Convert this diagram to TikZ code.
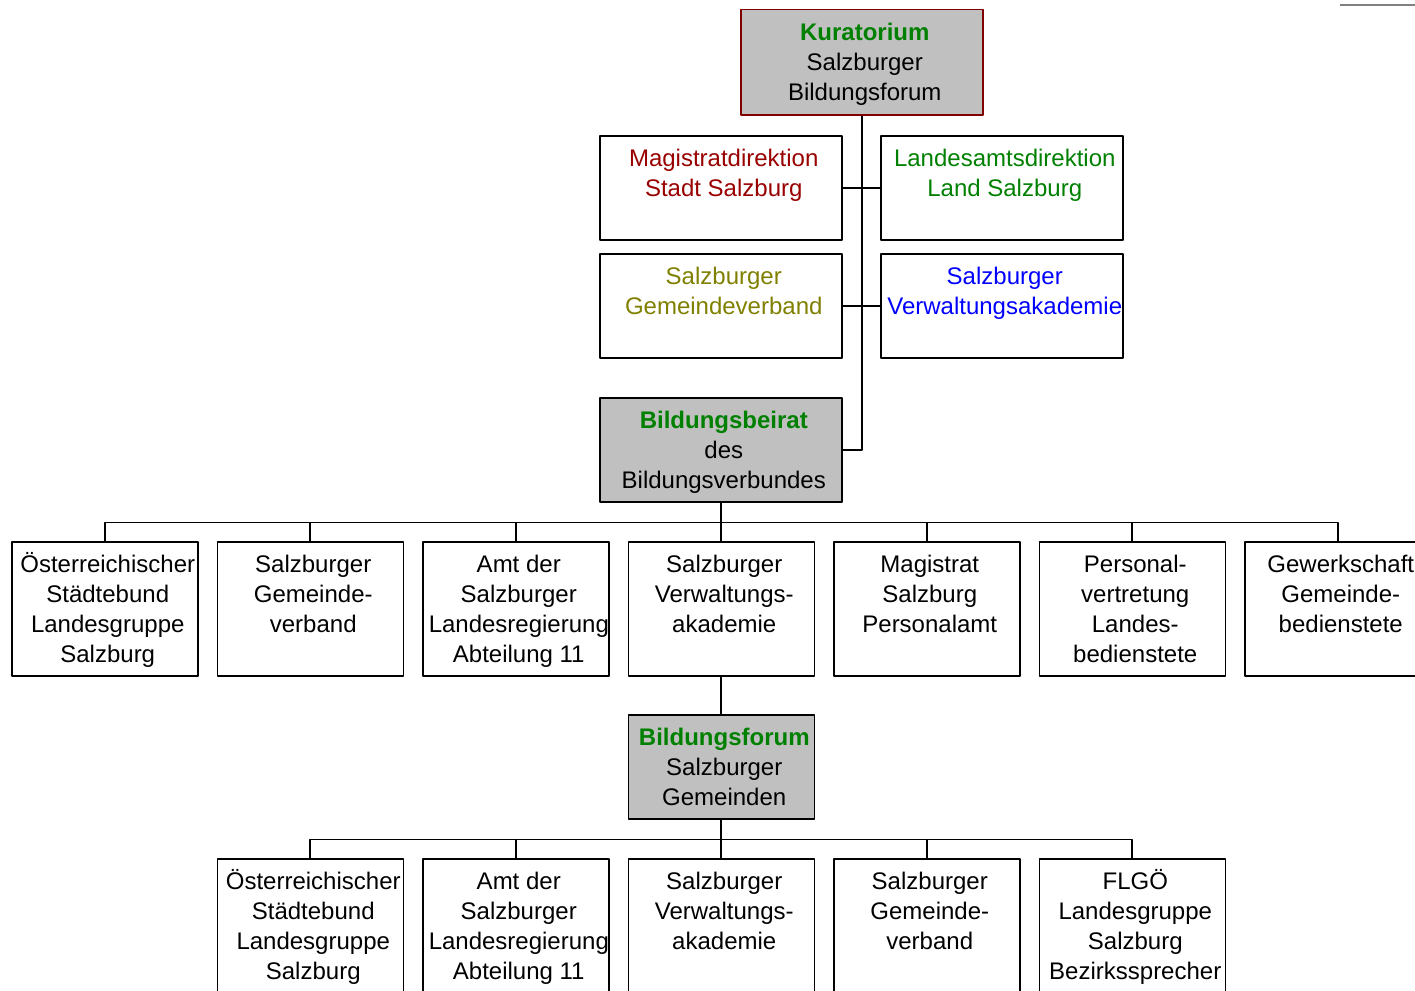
\documentclass[tikz,border=0pt]{standalone}
\usepackage{fontspec}
\setmainfont{Liberation Sans}
\definecolor{kgreen}{HTML}{008000}
\definecolor{mred}{HTML}{990000}
\definecolor{kred}{HTML}{800000}
\definecolor{gvolive}{HTML}{808000}
\definecolor{boxgray}{HTML}{C0C0C0}
% text block of a box: top aligned, fixed size
\newcommand\boxtext[3]{\parbox[t][#2][t]{#1}{\centering\leftskip=6pt plus 1fil\rule{0pt}{31pt}#3}}
\begin{document}
\begin{tikzpicture}[x=1pt,y=-1pt,line join=round,line cap=round,
    font=\fontsize{24}{30}\selectfont,
    orgbox/.style={draw,line width=1.5pt,inner sep=0pt,anchor=north west},
    graybox/.style={orgbox,fill=boxgray},
    link/.style={line width=1.6pt,line cap=butt}]
	\useasboundingbox (0,0) rectangle (1415,990);
	\clip (0,0) rectangle (1415,990);
	\draw[gray,line width=2pt,line cap=butt] (1340,5) -- (1415,5);
	% Kuratorium and members
	\node[graybox,draw=kred] (kur) at (740,9) {\boxtext{242pt}{105pt}{\textbf{\color{kgreen}Kuratorium}\\Salzburger\\Bildungsforum}};
	\node[orgbox] (mag) at (599,135) {\boxtext{242pt}{104pt}{\color{mred}Magistratdirektion\\Stadt Salzburg}};
	\node[orgbox] (land) at (880,135) {\boxtext{242pt}{104pt}{\color{kgreen}Landesamtsdirektion\\Land Salzburg}};
	\node[orgbox] (gv) at (599,253) {\boxtext{242pt}{104pt}{\color{gvolive}Salzburger\\Gemeindeverband}};
	\node[orgbox] (va) at (880,253) {\boxtext{242pt}{104pt}{\color{blue}Salzburger\\Verwaltungsakademie}};
	\node[graybox] (beirat) at (599,397) {\boxtext{242pt}{104pt}{\textbf{\color{kgreen}Bildungsbeirat}\\des\\Bildungsverbundes}};
	\draw[link] (kur.south) |- (beirat.east);
	\draw[link] (mag.east) -- (land.west);
	\draw[link] (gv.east) -- (va.west);
	% Bildungsbeirat row
	\foreach \i/\txt in {0/{Österreichischer\\Städtebund\\Landesgruppe\\Salzburg},
		1/{Salzburger\\Gemeinde-\\verband},
		2/{Amt der\\Salzburger\\Landesregierung\\Abteilung 11},
		3/{Salzburger\\Verwaltungs-\\akademie},
		4/{Magistrat\\Salzburg\\Personalamt},
		5/{Personal-\\vertretung\\Landes-\\bedienstete},
		6/{Gewerkschaft\\Gemeinde-\\bedienstete}}
		\node[orgbox] (r\i) at (11+205.5*\i,541) {\boxtext{186pt}{134pt}{\txt}};
	\foreach \i in {0,...,6}
		\draw[link] (beirat.south) -- ++(0,20) -| (r\i.north);
	% Bildungsforum row
	\node[graybox] (forum) at (11+205.5*3,714) {\boxtext{186pt}{104pt}{\textbf{\color{kgreen}Bildungsforum}\\Salzburger\\Gemeinden}};
	\draw[link] (r3.south) -- (forum.north);
	\foreach \i/\txt in {1/{Österreichischer\\Städtebund\\Landesgruppe\\Salzburg},
		2/{Amt der\\Salzburger\\Landesregierung\\Abteilung 11},
		3/{Salzburger\\Verwaltungs-\\akademie},
		4/{Salzburger\\Gemeinde-\\verband},
		5/{FLGÖ\\Landesgruppe\\Salzburg\\Bezirkssprecher}}
		\node[orgbox] (s\i) at (11+205.5*\i,858) {\boxtext{186pt}{140pt}{\txt}};
	\foreach \i in {1,...,5}
		\draw[link] (forum.south) -- ++(0,20) -| (s\i.north);
\end{tikzpicture}
\end{document}
